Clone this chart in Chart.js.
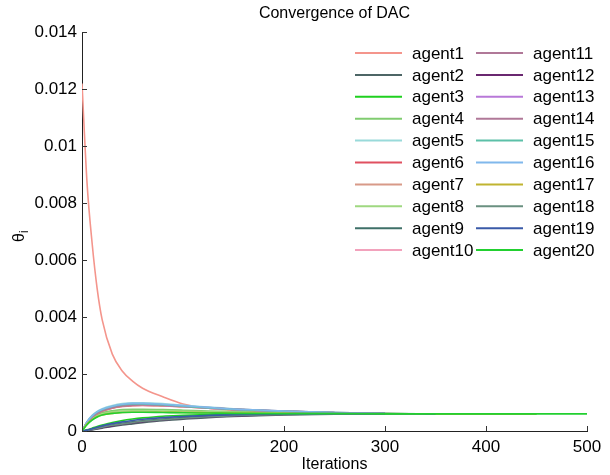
<!DOCTYPE html>
<html>
<head>
<meta charset="utf-8">
<script src="https://cdn.jsdelivr.net/npm/chart.js@4/dist/chart.umd.min.js"></script>
<style>
  body { margin: 0; background: #fff; }
  #wrap { width: 610px; height: 475px; }
</style>
</head>
<body>
<div id="wrap"><canvas id="chart" width="610" height="475"></canvas></div>
<script>
// sample iterations
const iters = [0, 5, 10, 15, 20, 30, 40, 50, 60, 80, 100, 125, 150, 200, 250, 300, 350, 400, 450, 500];

// each agent: values at iters[0..n-1] (shorter arrays = agent stops earlier)
const agent1  = [0.0122, 0.0087, 0.0066, 0.0050, 0.0039, 0.0027, 0.0021, 0.00175, 0.0015, 0.0012, 0.00095, 0.0008, 0.00073, 0.00066, 0.00062, 0.00061];
const agent2  = [0, 0.00001, 0.00004, 0.00007, 0.0001, 0.00016, 0.00021, 0.00025, 0.00029, 0.00036, 0.00041, 0.00047, 0.00051, 0.00056, 0.00059];
const agent3  = [0, 0.00004, 0.0001, 0.00016, 0.00021, 0.0003, 0.00037, 0.00042, 0.00046, 0.00052, 0.00055, 0.00058, 0.0006, 0.00061, 0.00061, 0.00061, 0.0006, 0.0006, 0.0006];
const agent4  = [0, 0.00028, 0.00046, 0.00057, 0.00064, 0.00071, 0.00075, 0.00076, 0.00076, 0.00075, 0.00073, 0.0007, 0.00068, 0.00065, 0.00063];
const agent5  = [0, 0.00033, 0.00055, 0.00069, 0.00078, 0.00089, 0.00096, 0.00099, 0.00099, 0.00096, 0.0009, 0.00084, 0.00078, 0.0007, 0.00065];
const agent6  = [0, 0.00028, 0.00047, 0.0006, 0.00069, 0.0008, 0.00086, 0.00089, 0.0009, 0.00088, 0.00085, 0.0008, 0.00075, 0.00069, 0.00064, 0.00062];
const agent7  = [0, 0.00029, 0.00048, 0.00061, 0.0007, 0.00081, 0.00087, 0.0009, 0.00091, 0.00089, 0.00085, 0.0008, 0.00076, 0.00069, 0.00065];
const agent8  = [0, 0.00027, 0.00043, 0.00054, 0.0006, 0.00067, 0.0007, 0.00071, 0.00071, 0.0007, 0.00069, 0.00067, 0.00066, 0.00064, 0.00062, 0.00061];
const agent9  = [0, 0.00002, 0.00006, 0.0001, 0.00014, 0.00021, 0.00027, 0.00032, 0.00036, 0.00042, 0.00047, 0.00052, 0.00055, 0.00059, 0.0006, 0.0006];
const agent10 = [0, 0.0003, 0.0005, 0.00064, 0.00073, 0.00084, 0.0009, 0.00093, 0.00093, 0.0009, 0.00086, 0.0008, 0.00076, 0.00069, 0.00065];
const agent11 = [0, 0.00029, 0.00049, 0.00062, 0.00071, 0.00082, 0.00088, 0.00091, 0.00092, 0.0009, 0.00086, 0.00081, 0.00076, 0.00069, 0.00064];
const agent12 = [0, 0.00002, 0.00005, 0.00008, 0.00012, 0.00018, 0.00024, 0.00029, 0.00033, 0.00039, 0.00044, 0.0005, 0.00053, 0.00058, 0.0006];
const agent13 = [0, 0.00031, 0.00051, 0.00065, 0.00074, 0.00085, 0.00091, 0.00094, 0.00094, 0.00091, 0.00087, 0.00081, 0.00076, 0.00069, 0.00065];
const agent14 = [0, 0.0003, 0.0005, 0.00063, 0.00072, 0.00083, 0.00089, 0.00092, 0.00093, 0.00091, 0.00087, 0.00082, 0.00077, 0.0007, 0.00065, 0.00062];
const agent15 = [0, 0.00032, 0.00052, 0.00066, 0.00075, 0.00086, 0.00092, 0.00095, 0.00095, 0.00092, 0.00087, 0.00081, 0.00076, 0.00069, 0.00065, 0.00062];
const agent16 = [0, 0.00032, 0.00053, 0.00067, 0.00076, 0.00087, 0.00094, 0.00097, 0.00097, 0.00094, 0.00089, 0.00083, 0.00077, 0.0007, 0.00065, 0.00062];
const agent17 = [0, 0.00025, 0.0004, 0.0005, 0.00056, 0.00062, 0.00065, 0.00066, 0.00066, 0.00066, 0.00065, 0.00064, 0.00063, 0.00062, 0.00061, 0.00061, 0.0006, 0.0006, 0.0006];
const agent18 = [0, 0.00002, 0.00005, 0.00009, 0.00013, 0.0002, 0.00025, 0.0003, 0.00034, 0.0004, 0.00045, 0.0005, 0.00054, 0.00058, 0.0006, 0.0006];
const agent19 = [0, 0.00003, 0.00008, 0.00013, 0.00018, 0.00026, 0.00032, 0.00037, 0.00041, 0.00047, 0.00051, 0.00055, 0.00057, 0.0006, 0.00061, 0.00061, 0.0006];
const agent20 = [0, 0.00022, 0.00038, 0.00049, 0.00056, 0.00062, 0.00065, 0.00066, 0.00066, 0.00065, 0.00064, 0.00063, 0.00062, 0.00061, 0.00061, 0.0006, 0.0006, 0.0006, 0.0006, 0.0006];

const agentNames = ["agent1","agent2","agent3","agent4","agent5","agent6","agent7","agent8","agent9","agent10",
  "agent11","agent12","agent13","agent14","agent15","agent16","agent17","agent18","agent19","agent20"];
const agentValues = [agent1, agent2, agent3, agent4, agent5, agent6, agent7, agent8, agent9, agent10,
  agent11, agent12, agent13, agent14, agent15, agent16, agent17, agent18, agent19, agent20];
const agentColors = ["#f4958c","#4d6666","#1fd01f","#80cc70","#99dada","#e05060","#d89a88","#9fd880","#3f7068","#f2a2bc",
  "#b07898","#6a2870","#b878d8","#b07898","#5cc0a8","#80b8ec","#c0b430","#6a9080","#3a5aa8","#22d030"];

const yTicks = [0, 0.002, 0.004, 0.006, 0.008, 0.01, 0.012, 0.014];
const xTicks = [0, 100, 200, 300, 400, 500];

const FONT = "'Liberation Sans', Arial, sans-serif";

const datasets = agentNames.map((name, i) => ({
  label: name,
  data: agentValues[i].map((v, j) => ({ x: iters[j], y: v })),
  borderColor: agentColors[i],
  borderWidth: 1.6,
  pointRadius: 0,
  cubicInterpolationMode: "monotone",
  order: agentNames.length - i,
}));

// inward tick marks, theta label and two-column legend
const extras = {
  id: "extras",
  afterDraw(chart) {
    const ctx = chart.ctx;
    const xs = chart.scales.x, ys = chart.scales.y;
    const area = chart.chartArea;
    ctx.save();
    ctx.strokeStyle = "#333";
    ctx.lineWidth = 1;
    ctx.beginPath();
    xTicks.forEach(v => {
      const px = Math.round(xs.getPixelForValue(v)) + 0.5;
      ctx.moveTo(px, area.bottom);
      ctx.lineTo(px, area.bottom - 5);
    });
    yTicks.forEach(v => {
      const py = Math.round(ys.getPixelForValue(v)) + 0.5;
      ctx.moveTo(area.left, py);
      ctx.lineTo(area.left + 5, py);
    });
    ctx.stroke();

    // y axis label θ with subscript i
    ctx.fillStyle = "#000";
    ctx.translate(24, 242);
    ctx.rotate(-Math.PI / 2);
    ctx.textBaseline = "alphabetic";
    ctx.font = "16px " + FONT;
    ctx.fillText("θ", 0, 0);
    const w = ctx.measureText("θ").width;
    ctx.font = "12px " + FONT;
    ctx.fillText("i", w, 4);
    ctx.restore();

    // legend
    ctx.save();
    ctx.font = "17px " + FONT;
    ctx.textBaseline = "middle";
    const colX = [355, 476];
    agentNames.forEach((name, i) => {
      const col = Math.floor(i / 10), row = i % 10;
      const x = colX[col], y = 53 + row * 21.9;
      ctx.strokeStyle = agentColors[i];
      ctx.lineWidth = 2;
      ctx.beginPath();
      ctx.moveTo(x, y);
      ctx.lineTo(x + 47, y);
      ctx.stroke();
      ctx.fillStyle = "#000";
      ctx.fillText(name, x + 57, y + 1);
    });
    ctx.restore();
  }
};

new Chart(document.getElementById("chart").getContext("2d"), {
  type: "line",
  data: { datasets: datasets },
  options: {
    responsive: false,
    animation: false,
    layout: { padding: { top: 0, right: 23, bottom: 0, left: 0 } },
    plugins: {
      legend: { display: false },
      tooltip: { enabled: false },
      title: {
        display: true,
        fullSize: false,
        text: "Convergence of DAC",
        color: "#000",
        font: { family: FONT, size: 16, weight: "normal" },
        padding: { top: 4, bottom: 9 },
      },
    },
    scales: {
      x: {
        type: "linear",
        min: 0,
        max: 500,
        afterBuildTicks: s => { s.ticks = xTicks.map(v => ({ value: v })); },
        afterFit: s => { s.height = 44; },
        grid: { display: false, drawTicks: false },
        border: { display: true, color: "#222", width: 1 },
        ticks: { color: "#000", padding: 6, font: { family: FONT, size: 17 } },
        title: {
          display: true,
          text: "Iterations",
          color: "#000",
          font: { family: FONT, size: 16 },
          padding: { top: 0, bottom: 1 },
        },
      },
      y: {
        type: "linear",
        min: 0,
        max: 0.014,
        afterBuildTicks: s => { s.ticks = yTicks.map(v => ({ value: v })); },
        afterFit: s => { s.width = 82; },
        grid: { display: false, drawTicks: false },
        border: { display: true, color: "#222", width: 1 },
        ticks: {
          color: "#000",
          padding: 5,
          font: { family: FONT, size: 17 },
          callback: v => String(+v.toFixed(3)),
        },
      },
    },
  },
  plugins: [extras],
});
</script>
</body>
</html>
